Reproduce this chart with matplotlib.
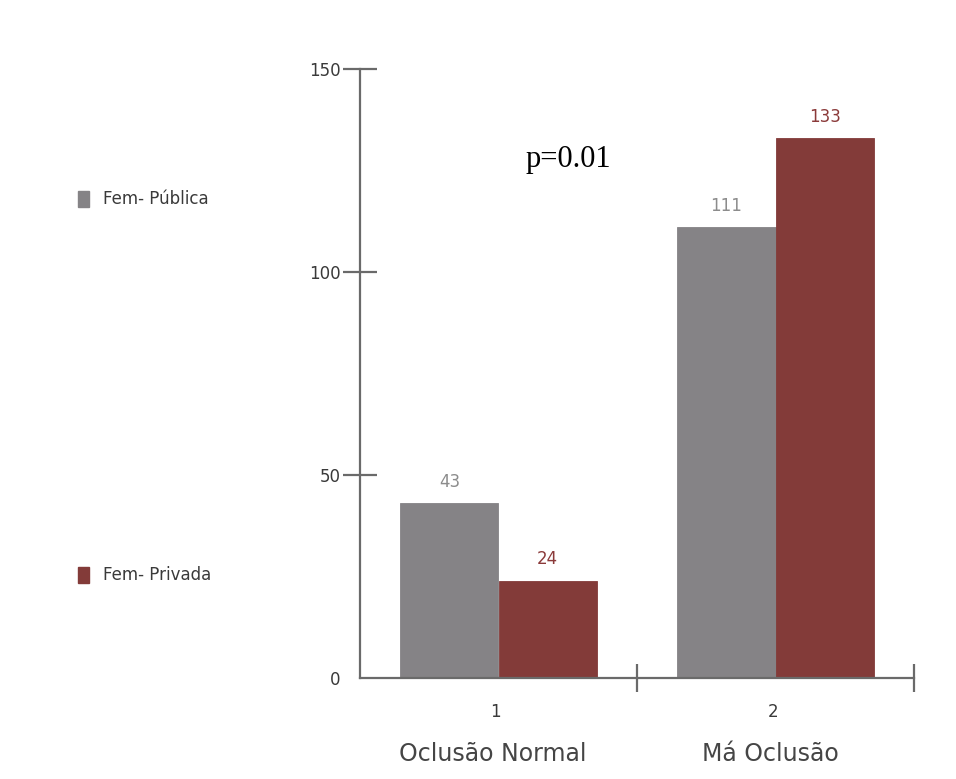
import matplotlib
matplotlib.use("Agg")
import matplotlib.pyplot as plt
import numpy as np

# Data
groups = ["1", "2"]
group_names = ["Oclusão Normal", "Má Oclusão"]
series_names = ["Fem- Pública", "Fem- Privada"]
publica = [43, 111]
privada = [24, 133]
yticks = [0, 50, 100, 150]
p_text = "p=0.01"

col_pub = "#858386"
col_priv = "#833b39"
lab_pub = "#8c8c8c"
lab_priv = "#8b3a3a"
axis_col = "#6a6a6a"
txt_col = "#3a3a3a"
small = 12

fig = plt.figure(figsize=(9.56, 7.79), dpi=100)
ax = fig.add_axes([360 / 956, 1 - 678 / 779, (914 - 360) / 956, (678 - 69) / 779])

x = np.arange(1, len(groups) + 1)
w = 0.355
ax.bar(x - w / 2, publica, width=w, color=col_pub, edgecolor=col_pub,
       linewidth=0.6, zorder=2)
ax.bar(x + w / 2, privada, width=w, color=col_priv, edgecolor=col_priv,
       linewidth=0.6, zorder=2)

for xi, v in zip(x - w / 2, publica):
    ax.annotate(str(v), (xi, v), xytext=(0, 9), textcoords="offset points",
                ha="center", va="bottom", color=lab_pub, fontsize=small,
                family="DejaVu Sans")
for xi, v in zip(x + w / 2, privada):
    ax.annotate(str(v), (xi, v), xytext=(0, 9), textcoords="offset points",
                ha="center", va="bottom", color=lab_priv, fontsize=small,
                family="DejaVu Sans")

ax.set_xlim(0.5, 2.5)
ax.set_ylim(0, 150)

for s in ["top", "right"]:
    ax.spines[s].set_visible(False)
for s in ["left", "bottom"]:
    ax.spines[s].set_color(axis_col)
    ax.spines[s].set_linewidth(1.6)

ax.set_yticks(yticks)
ax.set_yticklabels([str(t) for t in yticks], fontsize=small, color=txt_col,
                   family="DejaVu Sans")
ax.tick_params(axis="y", direction="inout", length=24, width=1.6,
               color=axis_col, pad=2)
# no tick mark at zero
ax.yaxis.get_major_ticks()[0].tick1line.set_visible(False)

# group separators on the x axis
ax.set_xticks([1.5, 2.5])
ax.set_xticklabels([])
ax.tick_params(axis="x", direction="inout", length=20, width=1.6,
               color=axis_col)
for xi, g in zip(x, groups):
    ax.annotate(g, (xi - 0.01, 0), xytext=(0, -18), textcoords="offset points",
                ha="center", va="top", fontsize=small, color=txt_col,
                family="DejaVu Sans", annotation_clip=False)
for xi, g in zip(x, group_names):
    ax.annotate(g, (xi - 0.02, 0), xytext=(0, -46), textcoords="offset points",
                ha="center", va="top", fontsize=17, color="#454545",
                family="DejaVu Sans", annotation_clip=False)

# p-value text
fig.text(526 / 956, 1 - 160 / 779, p_text, family="Liberation Serif",
         fontsize=22, color="black", ha="left", va="center")

# legend entries on the left
for name, col, ypix in [(series_names[0], col_pub, 199), (series_names[1], col_priv, 575)]:
    fig.patches.append(matplotlib.patches.Rectangle(
        (78 / 956, 1 - (ypix + 8) / 779), 11 / 956, 16 / 779,
        transform=fig.transFigure, color=col, figure=fig))
    fig.text(103 / 956, 1 - ypix / 779, name, fontsize=small, color=txt_col,
             family="DejaVu Sans", ha="left", va="center")

fig.savefig("out.png", dpi=100, facecolor="white")
